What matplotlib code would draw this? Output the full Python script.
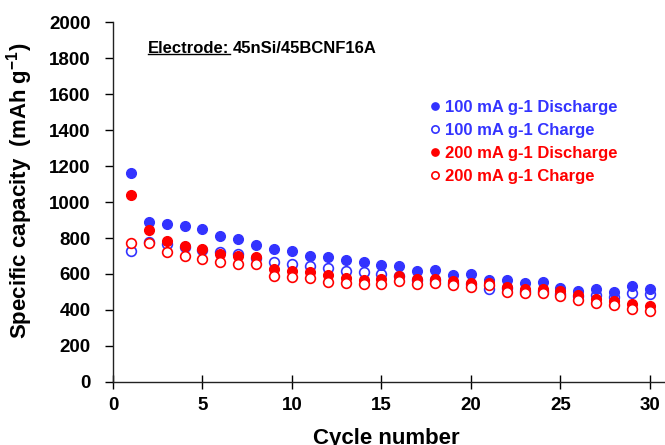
import numpy as np
import matplotlib
matplotlib.use("Agg")
import matplotlib.pyplot as plt

# %% Data

cycles = np.arange(1, 31)

dis_100 = [1159, 889, 878, 867, 850, 809, 793, 759, 741, 730,
           702, 694, 676, 667, 650, 646, 617, 622, 593, 598,
           567, 565, 548, 554, 522, 506, 515, 502, 533, 515]
chg_100 = [729, 780, 765, 748, 735, 722, 709, 691, 669, 657,
           643, 632, 619, 609, 600, 590, 568, 566, 552, 545,
           515, 520, 505, 508, 490, 478, 485, 474, 493, 487]
dis_200 = [1039, 844, 783, 756, 737, 713, 700, 696, 628, 619,
           609, 593, 576, 567, 570, 589, 570, 570, 561, 548,
           552, 526, 518, 518, 504, 485, 461, 452, 433, 424]
chg_200 = [770, 774, 720, 698, 685, 668, 656, 654, 591, 582,
           576, 557, 548, 544, 544, 561, 544, 548, 537, 526,
           539, 500, 493, 493, 476, 456, 437, 426, 407, 396]

labels = ["100 mA g-1 Discharge", "100 mA g-1 Charge",
          "200 mA g-1 Discharge", "200 mA g-1 Charge"]

blue = "#3333ff"
red = "#ff0000"

# %% Plot

plt.rcParams['font.family'] = ['Liberation Sans', 'DejaVu Sans']
plt.rcParams['font.weight'] = 'bold'
plt.rcParams['mathtext.fontset'] = 'custom'
plt.rcParams['mathtext.rm'] = 'Liberation Sans:bold'
plt.rcParams['mathtext.bf'] = 'Liberation Sans:bold'
plt.rcParams['mathtext.default'] = 'bf'

fig = plt.figure(figsize=(6.65, 4.45), dpi=100)
ax = fig.add_axes([113/665, 1 - 382/445, 1 - 113/665, (382 - 22)/445])

ms = 7
ax.plot(cycles, chg_100, 'o', ms=ms, mfc='white', mec=blue, mew=1.2, label=labels[1])
ax.plot(cycles, dis_100, 'o', ms=ms, color=blue, mec=blue, label=labels[0])
ax.plot(cycles, dis_200, 'o', ms=ms, color=red, mec=red, label=labels[2])
ax.plot(cycles, chg_200, 'o', ms=ms, mfc='white', mec=red, mew=1.2, label=labels[3])

ax.set_xlim(0, 30.84)
ax.set_ylim(0, 2000)
ax.set_xticks(np.arange(0, 31, 5))
ax.set_yticks(np.arange(0, 2001, 200))

for s in ['top', 'right']:
    ax.spines[s].set_visible(False)
for s in ['left', 'bottom']:
    ax.spines[s].set_linewidth(1.0)
    ax.spines[s].set_color('#222222')

ax.tick_params(axis='x', direction='inout', length=10, width=1.0,
               labelsize=13.5, pad=6)
ax.tick_params(axis='y', direction='out', length=6, width=1.0,
               labelsize=13.5, pad=10)
for t in ax.get_xticklabels() + ax.get_yticklabels():
    t.set_fontweight('bold')

ax.set_xlabel("Cycle number", fontsize=16, fontweight='bold', va='top')
ax.xaxis.set_label_coords(0.495, -0.128)
ax.set_ylabel("Specific capacity  (mAh g$^{-1}$)", fontsize=16,
              fontweight='bold')
ax.yaxis.set_label_coords(-0.142, 0.53)

# electrode annotation, underlined first word
t1 = ax.text(0.064, 0.927, "Electrode:", transform=ax.transAxes,
             fontsize=12, fontweight='bold', ha='left', va='center')
fig.canvas.draw()
bb = t1.get_window_extent().transformed(ax.transAxes.inverted())
ax.plot([bb.x0, bb.x1], [bb.y0 + 0.004, bb.y0 + 0.004], color='k', lw=1.0,
        transform=ax.transAxes, clip_on=False)
ax.text(bb.x1 + 0.006, 0.927, "45nSi/45BCNF16A", transform=ax.transAxes,
        fontsize=12, fontweight='bold', ha='left', va='center')

# legend with coloured text
handles, labs = ax.get_legend_handles_labels()
order = [1, 0, 2, 3]
leg = ax.legend([handles[i] for i in order], [labs[i] for i in order],
                loc='upper left', bbox_to_anchor=(0.548, 0.825), frameon=False,
                fontsize=12, handlelength=0.6, handletextpad=0.3,
                labelspacing=0.48, markerscale=0.75)
for txt, c in zip(leg.get_texts(), [blue, blue, red, red]):
    txt.set_color(c)
    txt.set_fontweight('bold')

fig.savefig("out.png", dpi=100)
